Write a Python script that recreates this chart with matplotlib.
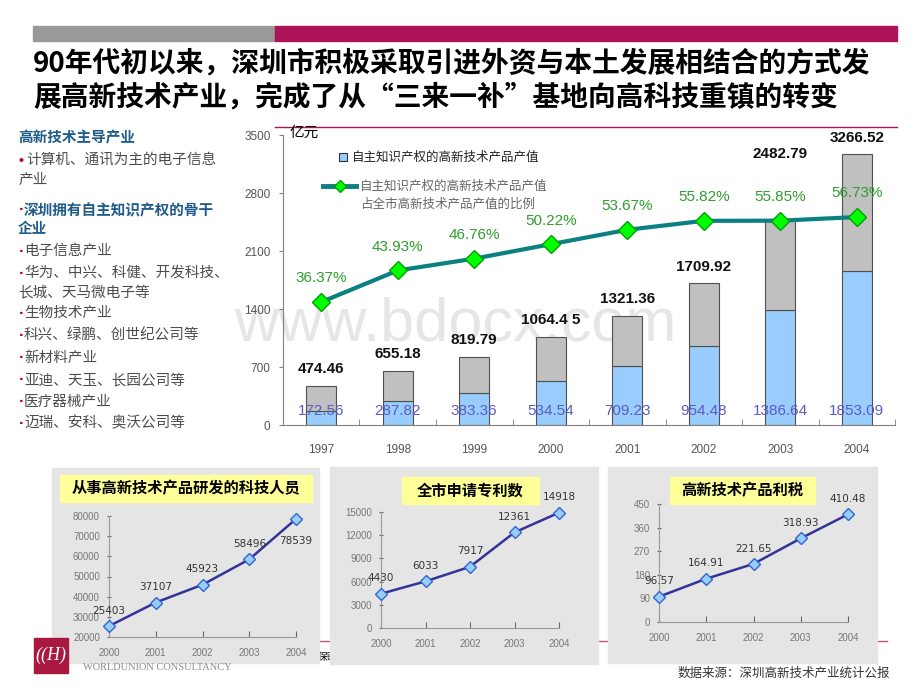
import matplotlib
matplotlib.use('Agg')
import matplotlib.pyplot as plt
from matplotlib.patches import Rectangle
from matplotlib.transforms import blended_transform_factory
import numpy as np

plt.rcParams['font.family'] = ['Liberation Sans', 'Noto Sans CJK SC']
CJK = ['Noto Sans CJK SC']

# ---- data ----
years_main = ['1997', '1998', '1999', '2000', '2001', '2002', '2003', '2004']
total_value = [474.46, 655.18, 819.79, 1064.45, 1321.36, 1709.92, 2482.79, 3266.52]
total_labels = ['474.46', '655.18', '819.79', '1064.4 5', '1321.36', '1709.92', '2482.79', '3266.52']
own_ip_value = [172.56, 287.82, 383.36, 534.54, 709.23, 954.48, 1386.64, 1853.09]
own_ip_share = [36.37, 43.93, 46.76, 50.22, 53.67, 55.82, 55.85, 56.73]

small_years = [2000, 2001, 2002, 2003, 2004]
rd_staff = [25403, 37107, 45923, 58496, 78539]
patents = [4430, 6033, 7917, 12361, 14918]
profit_tax = [96.57, 164.91, 221.65, 318.93, 410.48]

W, H = 920, 690
fig = plt.figure(figsize=(9.2, 6.9), dpi=100)
fig.patch.set_facecolor('white')

bg = fig.add_axes([0, 0, 1, 1])
bg.set_xlim(0, W)
bg.set_ylim(H, 0)
bg.axis('off')


def px_axes(x0, y0, x1, y1):
    a = fig.add_axes([x0 / W, 1 - y1 / H, (x1 - x0) / W, (y1 - y0) / H])
    a.set_facecolor('none')
    return a


MAGENTA = '#AD1457'

# header bars and title
bg.add_patch(Rectangle((33, 26), 242, 15, color='#999999'))
bg.add_patch(Rectangle((275, 26), 622, 15, color=MAGENTA))
bg.plot([275, 897], [127, 127], color=MAGENTA, lw=1)
bg.text(33, 63, '90年代初以来，深圳市积极采取引进外资与本土发展相结合的方式发',
        fontsize=20, fontweight='bold', family=CJK, va='center')
bg.text(33, 97, '展高新技术产业，完成了从“三来一补”基地向高科技重镇的转变',
        fontsize=20, fontweight='bold', family=CJK, va='center')

# left text column
HEAD = '#1F5C8B'
BODY = '#4D4D4D'
RED = '#C0003C'
left_lines = [
    (138, None, '高新技术主导产业', 'head'),
    (161, '•', '计算机、通讯为主的电子信息', 'body'),
    (180, None, '产业', 'body'),
    (210, '·', '深圳拥有自主知识产权的骨干', 'head'),
    (228, None, '企业', 'head'),
    (251, '·', '电子信息产业', 'body'),
    (273, '·', '华为、中兴、科健、开发科技、', 'body'),
    (292, None, '长城、天马微电子等', 'body'),
    (313, '·', '生物技术产业', 'body'),
    (335, '·', '科兴、绿鹏、创世纪公司等', 'body'),
    (358, '·', '新材料产业', 'body'),
    (380, '·', '亚迪、天玉、长园公司等', 'body'),
    (402, '·', '医疗器械产业', 'body'),
    (423, '·', '迈瑞、安科、奥沃公司等', 'body'),
]
for y, bullet, txt, kind in left_lines:
    x = 18
    if bullet:
        bg.text(19, y, bullet, color=RED, fontsize=10 if bullet == '•' else 12,
                fontweight='bold', va='center')
        x = 26 if bullet == '•' else 24
    bg.text(x, y, txt, family=CJK, fontsize=10.5, va='center',
            color=HEAD if kind == 'head' else BODY,
            fontweight='bold' if kind == 'head' else 'normal')

# watermark
bg.text(455, 325, 'www.bdocx.com', fontsize=44, color='#E6E6E6',
        ha='center', va='center', family='Liberation Sans')

# ---- main chart ----
ax = px_axes(283, 135, 895, 425)
x = np.arange(len(years_main))
rest = np.array(total_value) - np.array(own_ip_value)
bw = 0.39
ax.bar(x, own_ip_value, bw, color='#99CCFF', edgecolor='#505050', lw=0.8, zorder=2)
ax.bar(x, rest, bw, bottom=own_ip_value, color='#C0C0C0', edgecolor='#505050', lw=0.8, zorder=2)
ax.set_xlim(-0.5, len(years_main) - 0.5)
ax.set_ylim(0, 3500)
ax.set_yticks(np.arange(0, 3501, 700))
ax.set_xticks(x)
ax.set_xticklabels(years_main)
ax.set_xticks(np.arange(0.5, len(years_main), 1), minor=True)
ax.tick_params(axis='x', which='major', length=0, pad=14, labelsize=8.5, labelcolor='#555555')
ax.tick_params(axis='x', which='minor', direction='in', length=4, color='#808080')
ax.tick_params(axis='y', direction='out', length=3, color='#808080', pad=6,
               labelsize=8.5, labelcolor='#555555')
for s in ['top', 'right']:
    ax.spines[s].set_visible(False)
for s in ['left', 'bottom']:
    ax.spines[s].set_color('#808080')

lift = [0, 0, 0, 0, 0, 0, 35, 0]
for i, (v, lbl) in enumerate(zip(total_value, total_labels)):
    ax.annotate(lbl, (i, v), xytext=(0, 12 + lift[i]), textcoords='offset points',
                ha='center', va='center', fontsize=11, fontweight='bold', color='#111111')

bt = blended_transform_factory(ax.transData, ax.transAxes)
for i, v in enumerate(own_ip_value):
    ax.text(i, 0.049, f'{v:.2f}', transform=bt, ha='center', va='center',
            fontsize=11, color='#5B5BC0', zorder=4)

ax2 = ax.twinx()
ax2.set_ylim(6.93, 76.37)
ax2.axis('off')
ax2.plot(x, own_ip_share, color='#0A8080', lw=3, marker='D', ms=9,
         mfc='#00FF00', mec='#00A000', zorder=5)
for i, s in enumerate(own_ip_share):
    ax2.annotate(f'{s:.2f}%', (i, s), xytext=(0, 17), textcoords='offset points',
                 ha='center', va='center', fontsize=11, color='#2E9E2E')

bg.text(290, 133, '亿元', family=CJK, fontsize=10.5, va='center')
bg.add_patch(Rectangle((339, 153), 8, 8, facecolor='#99CCFF', edgecolor='#333333', lw=0.8))
bg.text(352, 157, '自主知识产权的高新技术产品产值', family=CJK, fontsize=9, va='center', color='#222222')
bg.plot([323, 356], [186, 186], color='#0A8080', lw=3.5)
bg.plot([340], [186], marker='D', ms=6, mfc='#00FF00', mec='#00A000')
bg.text(360, 186, '自主知识产权的高新技术产品产值', family=CJK, fontsize=9, va='center', color='#666666')
bg.text(360, 204, '占全市高新技术产品产值的比例', family=CJK, fontsize=9, va='center', color='#666666')

# ---- footer ----
bg.plot([230, 887], [641, 641], color='#C0507F', lw=1, zorder=0.5)
bg.text(318, 657, '保密', family=CJK, fontsize=7, va='center', zorder=0.5)
bg.add_patch(Rectangle((34, 638), 34, 35, color='#A8183F', zorder=5))
bg.text(51, 655, '((H)', color='white', fontsize=13, family='Liberation Serif',
        ha='center', va='center', zorder=6, style='italic')
bg.text(83, 667, 'WORLDUNION CONSULTANCY', family='Liberation Serif', fontsize=7.5,
        color='#8A8A8A', va='center', zorder=5)
bg.text(890, 673, '数据来源：深圳高新技术产业统计公报', family=CJK, fontsize=9,
        ha='right', va='center', color='#333333')


# ---- small charts ----
def small_panel(box, tbox, title, cbox, xs, ys, yticks, below=()):
    x0, y0, x1, y1 = box
    bg.add_patch(Rectangle((x0, y0), x1 - x0, y1 - y0, color='#E5E5E5', zorder=1))
    t0, u0, t1, u1 = tbox
    bg.add_patch(Rectangle((t0, u0), t1 - t0, u1 - u0, color='#FFFF99', zorder=2))
    bg.text((t0 + t1) / 2, (u0 + u1) / 2, title, family=CJK, fontsize=11,
            fontweight='bold', ha='center', va='center', zorder=3)
    a = px_axes(*cbox)
    a.plot(xs, ys, color='#333399', lw=1.8, marker='D', ms=6.5,
           mfc='#99CCFF', mec='#3366CC', clip_on=False, zorder=3)
    a.set_xlim(xs[0], xs[-1])
    a.set_ylim(yticks[0], yticks[-1])
    a.set_xticks(xs)
    a.set_yticks(yticks)
    a.tick_params(axis='x', direction='in', length=4, color='#666666', pad=8,
                  labelsize=7, labelcolor='#777777')
    a.tick_params(axis='y', direction='inout', length=3, color='#666666', pad=5,
                  labelsize=7, labelcolor='#777777')
    for s in ['top', 'right']:
        a.spines[s].set_visible(False)
    for s in ['left', 'bottom']:
        a.spines[s].set_color('#999999')
    for i, (xv, yv) in enumerate(zip(xs, ys)):
        dy = -16 if i in below else 11
        txt = f'{yv:.2f}' if isinstance(yv, float) else str(yv)
        a.annotate(txt, (xv, yv), xytext=(0, dy), textcoords='offset points',
                   ha='center', va='center', fontsize=7.5, color='#333333',
                   family='DejaVu Sans', zorder=4)


small_panel((52, 468, 319, 663), (60, 475, 312, 502), '从事高新技术产品研发的科技人员',
            (109, 516, 296, 637), small_years, rd_staff, list(range(20000, 80001, 10000)),
            below=(4,))
small_panel((330, 467, 598, 664), (402, 477, 539, 504), '全市申请专利数',
            (381, 512, 559, 628), small_years, patents, list(range(0, 15001, 3000)))
small_panel((608, 467, 877, 663), (670, 477, 815, 504), '高新技术产品利税',
            (659, 504, 848, 622), small_years, profit_tax, list(range(0, 451, 90)))

fig.savefig('out.png', dpi=100)
